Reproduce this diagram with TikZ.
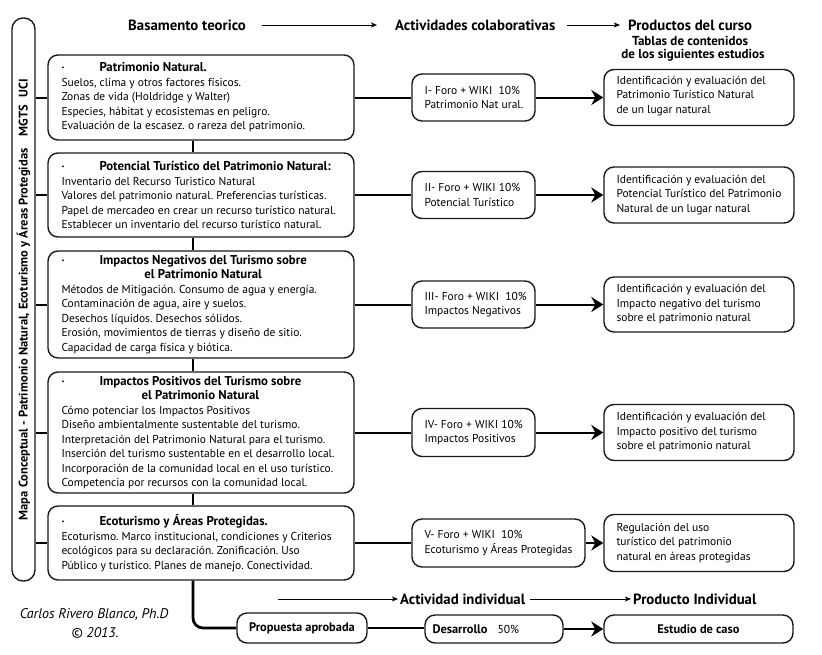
\documentclass[tikz,border=0pt]{standalone}
\usepackage{fontspec}
\setmainfont{PT Sans}
\usetikzlibrary{arrows.meta}
\frenchspacing
\newlength\tlen
\newcommand\ttl[1]{{\fontsize{12.8}{14.5}\selectfont\bfseries #1}}
\newcommand\bul{\makebox[38pt][l]{\textbf{·}}}
\newcommand\oneline[1]{\bul\ttl{#1}}
\newcommand\twoline[2]{\bul\ttl{#1}\\\settowidth\tlen{\ttl{#1}}\hspace*{38pt}\makebox[\tlen][c]{\ttl{#2}}}
\begin{document}
\begin{tikzpicture}[x=1pt,y=-1pt,
  box/.style={draw=black!90, line width=1.4pt, rounded corners=10pt, inner sep=0pt},
  body/.style={font=\frenchspacing\fontsize{11.5}{14.5}\selectfont, align=left, inner sep=0pt, anchor=west},
  conn/.style={line width=2pt},
  thickconn/.style={line width=2.8pt},
  arr/.style={line width=2pt, -{Stealth[length=12pt,width=15pt,inset=4pt]}},
  harr/.style={line width=0.9pt, -{Stealth[length=6pt,width=5pt,inset=1.5pt]}},
  hdr/.style={font=\bfseries\fontsize{14.8}{16}\selectfont, inner sep=2pt},
  sub/.style={font=\bfseries\fontsize{13}{14}\selectfont, inner sep=0pt}]
\useasboundingbox (0,0) rectangle (822,654);

% side label
\node[box, rotate=90, minimum width=563pt, minimum height=23pt, rounded corners=11pt,
  font=\bfseries\fontsize{12.5}{14}\selectfont] (side) at (23.5,299.5)
  {Mapa Conceptual - Patrimonio Natural, Ecoturismo y Áreas Protegidas\hspace{12pt}MGTS\hspace{8pt}UCI\hspace{21pt}};

\coordinate (sp) at (193,0);

% headers
\node[hdr, anchor=west] (bt) at (126,25) {Basamento teorico};
\node[hdr, anchor=west] (ac) at (393,25) {Actividades colaborativas};
\node[hdr, anchor=west] (pc) at (626,25) {Productos del curso};
\node[sub] (t1) at (690,41) {Tablas de contenidos};
\node[sub] (t2) at (693,55) {de los siguientes estudios};
\draw[harr, shorten <=14pt, shorten >=16pt] (bt.east) -- (ac.west);
\draw[harr, shorten <=10pt, shorten >=6pt] (ac.east) -- (pc.west);

% left theory boxes
\node[box, minimum width=306pt, minimum height=85pt] (b1) at (201,97.5) {};
\node[body] (b1t) at ([xshift=14pt]b1.west)
 {\oneline{Patrimonio Natural.}\\
  Suelos, clima y otros factores físicos.\\
  Zonas de vida (Holdridge y Walter)\\
  Especies, hábitat y ecosistemas en peligro.\\
  Evaluación de la escasez. o rareza del patrimonio.};
\node[box, minimum width=306pt, minimum height=84pt] (b2) at (201,195) {};
\node[body] (b2t) at ([xshift=14pt]b2.west)
 {\oneline{Potencial Turístico del Patrimonio Natural:}\\
  Inventario del Recurso Turistico Natural\\
  Valores del patrimonio natural. Preferencias turísticas.\\
  Papel de mercadeo en crear un recurso turístico natural.\\
  Establecer un inventario del recurso turístico natural.};
\node[box, minimum width=306pt, minimum height=107pt] (b3) at (201,304.5) {};
\node[body] (b3t) at ([xshift=14pt]b3.west)
 {\twoline{Impactos Negativos del Turismo sobre}{el Patrimonio Natural}\\
  Métodos de Mitigación. Consumo de agua y energía.\\
  Contaminación de agua, aire y suelos.\\
  Desechos líquidos. Desechos sólidos.\\
  Erosión, movimientos de tierras y diseño de sitio.\\
  Capacidad de carga física y biótica.};
\node[box, minimum width=306pt, minimum height=121pt] (b4) at (201,432.5) {};
\node[body] (b4t) at ([xshift=14pt]b4.west)
 {\twoline{Impactos Positivos del Turismo sobre}{el Patrimonio Natural}\\
  Cómo potenciar los Impactos Positivos\\
  Diseño ambientalmente sustentable del turismo.\\
  Interpretación del Patrimonio Natural para el turismo.\\
  Inserción del turismo sustentable en el desarrollo local.\\
  Incorporación de la comunidad local en el uso turístico.\\
  Competencia por recursos con la comunidad local.};
\node[box, minimum width=306pt, minimum height=74pt] (b5) at (201,543) {};
\node[body] (b5t) at ([xshift=14pt]b5.west)
 {\oneline{Ecoturismo y Áreas Protegidas.}\\
  Ecoturismo. Marco institucional, condiciones y Criterios\\
  ecológicos para su declaración. Zonificación. Uso\\
  Público y turístico. Planes de manejo. Conectividad.};

% activity boxes
\node[box, minimum width=123pt, minimum height=47pt] (a1) at (473.5,97.5) {};
\node[body] (a1t) at ([xshift=13pt]a1.west) {I- Foro + WIKI\ \ 10\%\\ Patrimonio Nat ural.};
\node[box, minimum width=123pt, minimum height=47pt] (a2) at (473.5,195) {};
\node[body] (a2t) at ([xshift=13pt]a2.west) {II- Foro + WIKI 10\%\\ Potencial Turístico};
\node[box, minimum width=123pt, minimum height=47pt] (a3) at (473.5,304.5) {};
\node[body] (a3t) at ([xshift=13pt]a3.west) {III- Foro + WIKI\ \ 10\%\\ Impactos Negativos};
\node[box, minimum width=123pt, minimum height=48pt] (a4) at (473.5,432.5) {};
\node[body] (a4t) at ([xshift=13pt]a4.west) {IV- Foro + WIKI 10\%\\ Impactos Positivos};
\node[box, minimum width=173pt, minimum height=48pt] (a5) at (498.5,543) {};
\node[body] (a5t) at ([xshift=13pt]a5.west) {V- Foro + WIKI\ \ 10\%\\ Ecoturismo y Áreas Protegidas};

% product boxes
\node[box, minimum width=190pt, minimum height=56pt] (p1) at (699,97.5) {};
\node[body] (p1t) at ([xshift=13pt,yshift=1.5pt]p1.west)
 {Identificación y evaluación del\\ Patrimonio Turístico Natural\\ de un lugar natural};
\node[box, minimum width=190pt, minimum height=56pt] (p2) at (699,195) {};
\node[body] (p2t) at ([xshift=13pt]p2.west)
 {Identificación y evaluación del\\ Potencial Turístico del Patrimonio\\ Natural de un lugar natural};
\node[box, minimum width=190pt, minimum height=55pt] (p3) at (699,304.5) {};
\node[body] (p3t) at ([xshift=13pt]p3.west)
 {Identificación y evaluación del\\ Impacto negativo del turismo\\ sobre el patrimonio natural};
\node[box, minimum width=190pt, minimum height=56pt] (p4) at (699,432.5) {};
\node[body] (p4t) at ([xshift=13pt]p4.west)
 {Identificación y evaluación del\\ Impacto positivo del turismo\\ sobre el patrimonio natural};
\node[box, minimum width=190pt, minimum height=57pt] (p5) at (699,543) {};
\node[body] (p5t) at ([xshift=13pt]p5.west)
 {Regulación del uso\\ turístico del patrimonio\\ natural en áreas protegidas};

% connectors
\foreach \i in {1,...,5} {
  \draw[conn] (b\i.west -| side.south) -- (b\i.west);
  \draw[conn] (b\i.east) -- (a\i.west);
  \draw[arr] (a\i.east) -- (p\i.west);
}
\draw[conn] (b1.south -| sp) -- (b2.north -| sp);
\draw[conn] (b2.south -| sp) -- (b3.north -| sp);
\draw[conn] (b3.south -| sp) -- (b4.north -| sp);
\draw[conn] (b4.south -| sp) -- (b5.north -| sp);

% bottom row
\node[hdr, anchor=west] (ai) at (398,599) {Actividad individual};
\node[hdr, anchor=west] (pi) at (631,599) {Producto Individual};
\coordinate (a0) at (278,599);
\draw[harr] (a0) -- (ai.west);
\draw[harr, shorten <=3pt] (ai.east) -- (pi.west);

\node[box, font=\bfseries\fontsize{12.4}{13}\selectfont, minimum width=130pt, minimum height=30pt] (prop) at (302,628) {Propuesta aprobada};
\node[box, minimum width=138pt, minimum height=28pt] (des) at (494,629) {};
\node[inner sep=0pt, anchor=west, font=\fontsize{11.5}{13}\selectfont] (dest) at ([xshift=8pt]des.west) {\textbf{\fontsize{12.4}{13}\selectfont Desarrollo}\hspace{10pt}50\%};
\node[box, font=\bfseries\fontsize{12.4}{13}\selectfont, minimum width=189pt, minimum height=28pt] (est) at (698.5,629) {Estudio de caso};
\draw[thickconn, rounded corners=10pt] (b5.south -| sp) |- (prop.west);
\draw[thickconn] (prop.east) -- (prop.east -| des.west);
\draw[arr] (des.east) -- (des.east -| est.west);

% credits
\node[font=\itshape\fontsize{14}{16}\selectfont, inner sep=0pt] (cr1) at (94,615) {Carlos Rivero Blanco, Ph.D};
\node[font=\itshape\fontsize{14}{16}\selectfont, inner sep=0pt] (cr2) at (95,633) {© 2013.};
\end{tikzpicture}
\end{document}
